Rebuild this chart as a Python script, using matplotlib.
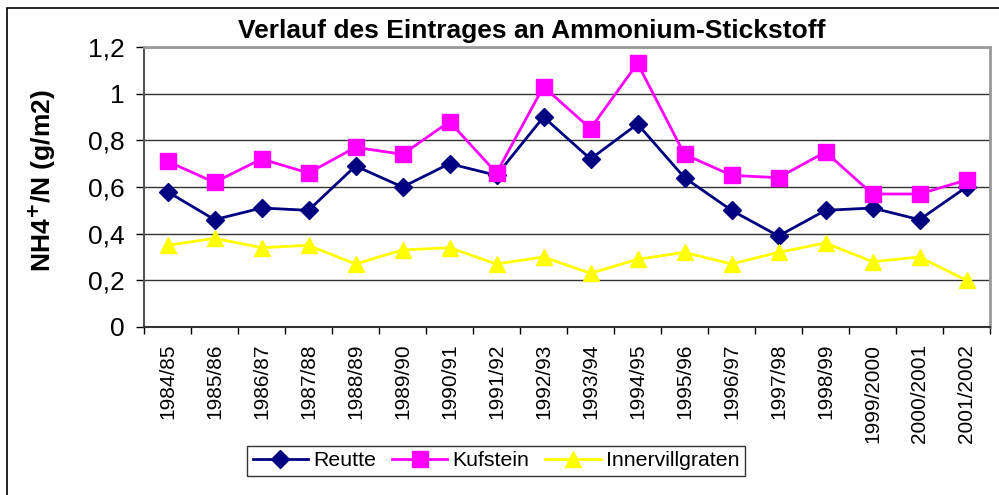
import matplotlib
matplotlib.use('Agg')
import matplotlib.pyplot as plt
from matplotlib.patches import Rectangle
from matplotlib.ticker import FuncFormatter

plt.rcParams['font.family'] = ['Liberation Sans', 'DejaVu Sans']

years = ["1984/85", "1985/86", "1986/87", "1987/88", "1988/89", "1989/90",
         "1990/91", "1991/92", "1992/93", "1993/94", "1994/95", "1995/96",
         "1996/97", "1997/98", "1998/99", "1999/2000", "2000/2001", "2001/2002"]
reutte = [0.58, 0.46, 0.51, 0.50, 0.69, 0.60, 0.70, 0.65, 0.90, 0.72,
          0.87, 0.64, 0.50, 0.39, 0.50, 0.51, 0.46, 0.60]
kufstein = [0.71, 0.62, 0.72, 0.66, 0.77, 0.74, 0.88, 0.66, 1.03, 0.85,
            1.13, 0.74, 0.65, 0.64, 0.75, 0.57, 0.57, 0.63]
innervillgraten = [0.35, 0.38, 0.34, 0.35, 0.27, 0.33, 0.34, 0.27, 0.30, 0.23,
                   0.29, 0.32, 0.27, 0.32, 0.36, 0.28, 0.30, 0.20]

fig = plt.figure(figsize=(9.99, 4.95), dpi=100)
W, H = 999, 495
ax = fig.add_axes([144 / W, 1 - 327 / H, (990 - 144) / W, (327 - 47) / H])

# outer border of the chart object (runs off the right and bottom edge)
fig.patches.append(Rectangle((7 / W, -0.05), 1.1, 1 - 8 / H + 0.05, transform=fig.transFigure,
                             fill=False, edgecolor="black", linewidth=1.2))

x = list(range(len(years)))
ax.plot(x, reutte, color="#000080", linewidth=2, marker="D", markersize=9.5, label="Reutte")
ax.plot(x, kufstein, color="#FF00FF", linewidth=2, marker="s", markersize=11, label="Kufstein")
ax.plot(x, innervillgraten, color="#FFFF00", linewidth=2, marker="^", markersize=11, label="Innervillgraten")

ax.set_xlim(-0.5, len(years) - 0.5)
ax.set_ylim(0, 1.2)
ax.set_yticks([0, 0.2, 0.4, 0.6, 0.8, 1.0, 1.2])
ax.yaxis.set_major_formatter(FuncFormatter(lambda v, p: f"{v:g}".replace(".", ",")))
ax.grid(axis="y", color="#333333", linewidth=1)
ax.set_axisbelow(True)

# category boundaries as major ticks, labels on minor ticks
ax.set_xticks([i - 0.5 for i in range(len(years) + 1)])
ax.set_xticklabels([])
ax.set_xticks(x, minor=True)
ax.set_xticklabels(years, minor=True, rotation=90, fontsize=15)
ax.tick_params(axis="x", which="minor", length=0, pad=12)
ax.tick_params(axis="x", which="major", length=5, width=1, direction="out")
ax.tick_params(axis="y", length=6, width=1, direction="out", labelsize=19, pad=8)

ax.spines["left"].set_color("#555555")
ax.spines["left"].set_linewidth(1.5)
ax.spines["bottom"].set_color("#333333")
ax.spines["bottom"].set_linewidth(1.5)
ax.spines["top"].set_color("#999999")
ax.spines["top"].set_linewidth(2)
ax.spines["right"].set_color("#999999")
ax.spines["right"].set_linewidth(2)

fig.text(532 / W, 1 - 31 / H, "Verlauf des Eintrages an Ammonium-Stickstoff",
         ha="center", va="center", fontsize=19, fontweight="bold")
fig.text(42 / W, 1 - 181 / H, r"NH4$^{\mathbf{+}}$/N (g/m2)", rotation=90,
         ha="center", va="center", fontsize=19, fontweight="bold")

leg = fig.legend(loc="center", bbox_to_anchor=(496 / W, 1 - 461 / H), ncol=3,
                 fontsize=15.3, frameon=True, fancybox=False, edgecolor="black",
                 handlelength=2.6, columnspacing=0.75, handletextpad=0.25,
                 borderpad=0.25, borderaxespad=0)
leg.get_frame().set_linewidth(1)

fig.savefig("out.png", dpi=100, facecolor="white")
plt.close(fig)
